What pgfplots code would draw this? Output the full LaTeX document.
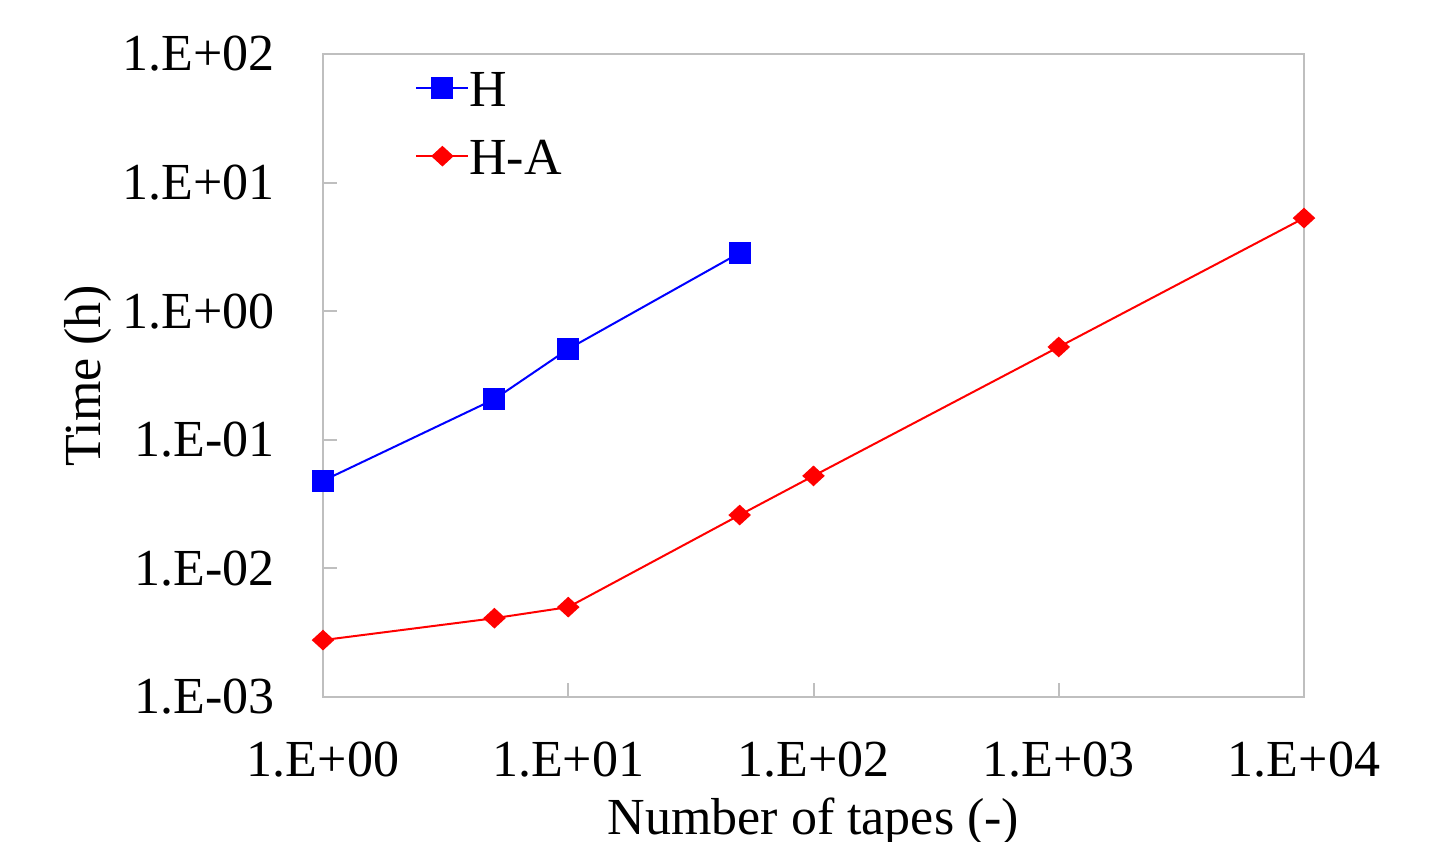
\documentclass[border=0pt]{standalone}
\usepackage{pgfplots}
\pgfplotsset{compat=1.18}
\usepackage{fontspec}
\setmainfont{Liberation Serif}
\definecolor{framegray}{RGB}{191,191,191}
\begin{document}
\fontsize{26bp}{30bp}\selectfont
\begin{tikzpicture}
\path[use as bounding box] (-161.5bp,-72.5bp) rectangle (563bp,348.5bp);
\begin{axis}[
  at={(0,0)}, anchor=south west,
  scale only axis, width=490.5bp, height=321.5bp,
  xmode=log, ymode=log,
  xmin=1, xmax=10000, ymin=1e-3, ymax=100,
  axis line style={framegray, line width=1bp},
  tick style={framegray, line width=1bp},
  major tick length=7bp,
  tick align=inside, tick pos=left,
  xminorticks=false, yminorticks=false,
  xtick={1,10,100,1000,10000},
  xticklabels={1.E+00,1.E+01,1.E+02,1.E+03,1.E+04},
  ytick={1e-3,1e-2,1e-1,1,10,100},
  yticklabels={1.E-03,1.E-02,1.E-01,1.E+00,1.E+01,1.E+02},
  xticklabel style={anchor=base, inner sep=0pt, yshift=-39.5bp},
  yticklabel style={anchor=east, inner sep=0pt, xshift=-24bp},
  xlabel={Number of tapes (-)},
  ylabel={Time (h)},
  xlabel style={at={(axis description cs:0.5,-0.2146)}, anchor=base, inner sep=0pt},
  ylabel style={at={(axis description cs:-0.2396,0.5)}, anchor=center, inner sep=0pt},
  legend cell align=left,
  legend style={draw=none, fill=none, inner sep=0pt, at={(axis description cs:0.0938,0.894)}, anchor=west,
    nodes={inner sep=0pt, text height=18bp, text depth=0bp}, row sep=16bp,
    /tikz/every even column/.append style={column sep=4.5bp}},
  legend image code/.code={\draw[mark repeat=2,mark phase=2] plot coordinates {(0bp,0bp)(13bp,0bp)(26bp,0bp)};},
]
\addplot[blue, line width=1bp, mark=square*, mark size=5bp, mark options={solid}] coordinates {
(1,0.048) (5,0.207) (10,0.508) (50,2.84)
};
\addlegendentry{H}
\addplot[red, line width=1bp, mark=diamond*, mark size=4.5bp, mark options={solid, xscale=1.45}] coordinates {
(1,0.00277) (5,0.0041) (10,0.0050) (50,0.026) (100,0.0524) (1000,0.527) (10000,5.3)
};
\addlegendentry{H-A}
\end{axis}
\end{tikzpicture}
\end{document}
